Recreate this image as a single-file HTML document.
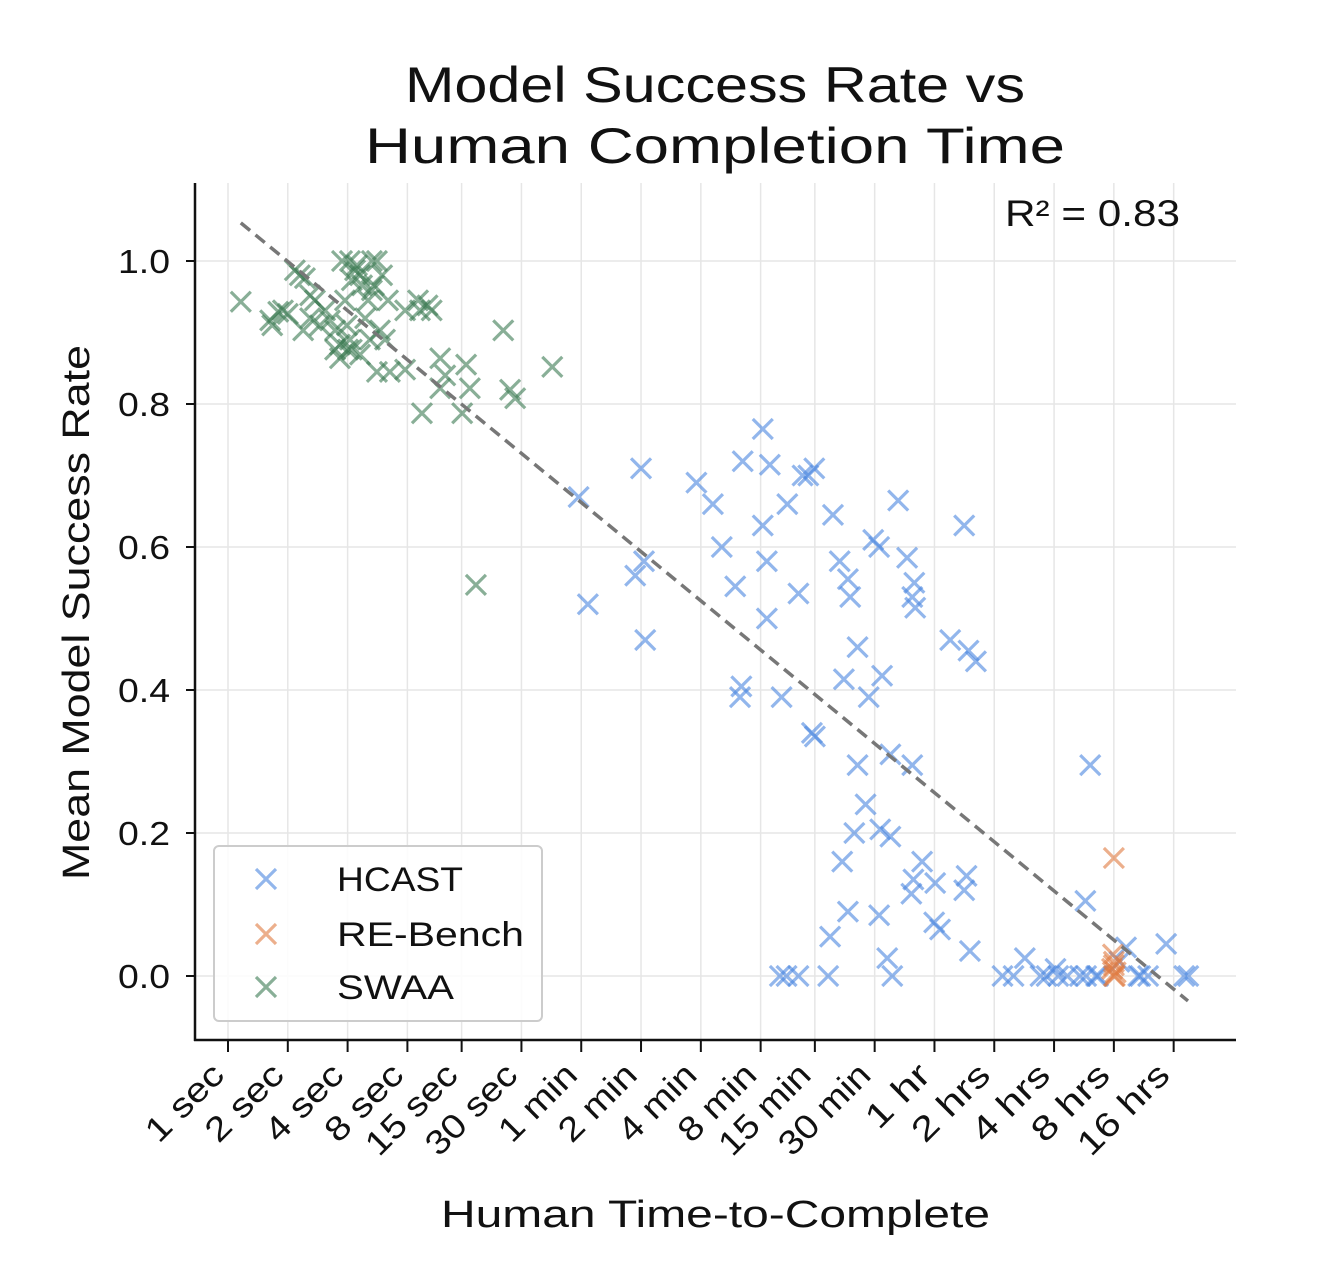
<!DOCTYPE html>
<html><head><meta charset="utf-8"><style>
html,body{margin:0;padding:0;background:#fff;}
svg{display:block;font-family:"Liberation Sans","DejaVu Sans",sans-serif;}
</style></head><body>
<svg id="chart" width="1324" height="1262" viewBox="0 0 1324 1262" xmlns="http://www.w3.org/2000/svg">
<rect width="1324" height="1262" fill="#fff"/>
<text x="405" y="102" font-size="50" textLength="620" lengthAdjust="spacingAndGlyphs" fill="#111">Model Success Rate vs</text>
<text x="365" y="163" font-size="50" textLength="700" lengthAdjust="spacingAndGlyphs" fill="#111">Human Completion Time</text>
<g id="grid"></g>
<g id="ticks"></g>
<g id="marks"></g>
<g id="fit"></g>
<line x1="195" y1="183" x2="195" y2="1041" stroke="#111" stroke-width="2.5"/>
<line x1="194" y1="1040" x2="1236" y2="1040" stroke="#111" stroke-width="2.5"/>
<text x="1005" y="226" font-size="37" textLength="175" lengthAdjust="spacingAndGlyphs" fill="#111">R² = 0.83</text>
<text transform="translate(89,880) rotate(-90)" font-size="38" textLength="535" lengthAdjust="spacingAndGlyphs" fill="#111">Mean Model Success Rate</text>
<text x="441" y="1227" font-size="38" textLength="549" lengthAdjust="spacingAndGlyphs" fill="#111">Human Time-to-Complete</text>
<g>
<rect x="214" y="846" width="328" height="175" rx="5" fill="#fff" fill-opacity="0.85" stroke="#ccc" stroke-width="2"/>
<g id="legend-items"></g>
</g>
</svg>
<script>
const yTicks=[0,0.2,0.4,0.6,0.8,1.0];
const yTickLabels=["0.0","0.2","0.4","0.6","0.8","1.0"];
const xTickSeconds=[1,2,4,8,15,30,60,120,240,480,900,1800,3600,7200,14400,28800,57600];
const xTickLabels=["1 sec","2 sec","4 sec","8 sec","15 sec","30 sec","1 min","2 min","4 min","8 min","15 min","30 min","1 hr","2 hrs","4 hrs","8 hrs","16 hrs"];
// HCAST: time in minutes, success rate
const hcastMinutes=[0.97,1.08,2.0,1.87,2.07,2.1,3.8,4.6,5.1,5.96,6.5,6.4,6.3,8.2,8.9,8.2,8.6,8.6,10.2,10.9,12.4,13,14.9,13.9,14.5,15,18.5,20,22,22.6,24.6,21,28,24.6,27,23.7,20.6,22,17.9,17.5,10,10.8,12.4,29.5,31.6,32.7,36,32,36,31.6,34.7,36.8,39.4,43.7,47.5,46.4,48,46.4,52,47,45.9,60.5,59.8,64,72,89,97,84.7,87,84.7,90.5,132,171,150,205,220,244,252,280,324,348,391,400,652,714,1085,1137,365,345,512,553,880,637];
const hcastRate=[0.67,0.52,0.71,0.56,0.58,0.47,0.69,0.66,0.60,0.545,0.72,0.405,0.39,0.765,0.715,0.63,0.58,0.50,0.39,0.66,0.535,0.70,0.71,0.70,0.34,0.335,0.645,0.58,0.555,0.53,0.46,0.415,0.39,0.295,0.24,0.20,0.16,0.09,0.055,0,0,0,0,0.61,0.60,0.42,0.31,0.205,0.195,0.085,0.025,0,0.665,0.585,0.55,0.53,0.515,0.295,0.16,0.135,0.115,0.13,0.075,0.065,0.47,0.455,0.44,0.63,0.14,0.12,0.035,0,0.025,0,0,0,0.01,0,0,0,0,0,0,0,0,0,0,0.295,0.105,0.02,0.04,0.045,0];
// RE-Bench: minutes, success
const reMinutes=[480,470,490,480,475,485,480,480];
const reRate=[0,0.01,0.005,0.02,0.03,0,0.015,0.165];
// SWAA: seconds, success
const swaaSeconds=[1.16,1.63,1.67,1.79,1.89,2.0,2.17,2.3,2.44,2.59,2.39,2.59,2.74,2.9,3.08,3.26,3.46,3.66,3.75,3.88,3.97,4.02,4.11,4.2,4.36,4.46,4.62,4.73,4.9,5.07,5.18,5.3,5.43,5.62,5.82,5.97,6.17,5.62,4.62,3.66,6.53,7.79,7.79,9.05,9.25,10.1,10.6,11.7,12.4,9.47,11.7,15.8,16.5,15.1,24.3,26.3,27.9,42.9,17.7,4.11,5.3,6.39,3.46,4.2];
const swaaRate=[0.943,0.917,0.91,0.929,0.931,0.926,0.987,0.98,0.976,0.952,0.903,0.92,0.945,0.91,0.931,0.917,0.903,0.883,1.0,0.945,0.91,0.876,0.89,0.973,0.987,0.994,0.98,0.966,0.92,0.945,0.89,0.959,0.966,1.0,0.903,0.98,0.89,0.845,0.869,0.864,0.845,0.848,0.931,0.945,0.931,0.938,0.931,0.864,0.84,0.787,0.822,0.855,0.822,0.787,0.903,0.82,0.808,0.852,0.547,1.0,1.0,0.945,0.876,0.876];
const fitIntercept=1.068, fitSlope=-0.0687; // per log2(seconds)
const fitRange=[1.16,68000];

const NS="http://www.w3.org/2000/svg";
const X=s=>228+59.8*Math.log2(s);
const Y=v=>976-715*v;
function mk(tag,attrs,parent){const e=document.createElementNS(NS,tag);for(const k in attrs)e.setAttribute(k,attrs[k]);parent.appendChild(e);return e;}
const grid=document.getElementById('grid'),ticks=document.getElementById('ticks'),marks=document.getElementById('marks');
yTicks.forEach((v,i)=>{
  const l=mk('line',{x1:195,x2:1236,y1:Y(v),y2:Y(v),stroke:'#e6e6e6','stroke-width':1.5},grid);
  
  
  const t=mk('line',{x1:186,x2:195,y1:Y(v),y2:Y(v),stroke:'#111','stroke-width':2},ticks);
  
  
  const tx=mk('text',{x:118,y:Y(v)+12,'font-size':33,textLength:52,lengthAdjust:'spacingAndGlyphs',fill:'#111'},ticks);
  tx.textContent=yTickLabels[i];
  
  
});
xTickSeconds.forEach((s,i)=>{
  const x=X(s);
  const l=mk('line',{x1:x,x2:x,y1:183,y2:1040,stroke:'#e6e6e6','stroke-width':1.5},grid);
  
  
  const t=mk('line',{x1:x,x2:x,y1:1040,y2:1052,stroke:'#111','stroke-width':2},ticks);
  
  
  const tx=mk('text',{transform:`translate(${x-2},${1077}) rotate(-45)`,'font-size':34,'text-anchor':'end',textLength:xTickLabels[i].length*19,lengthAdjust:'spacingAndGlyphs',fill:'#111'},ticks);
  tx.textContent=xTickLabels[i];
  
  
});
function cross(cx,cy,color,parent,name){
  const g=mk('g',{stroke:color,'stroke-width':3.2,'stroke-opacity':0.6,fill:'none'},parent);
  
  
  const r=10;
  mk('path',{d:`M${cx-r},${cy-r}L${cx+r},${cy+r}M${cx-r},${cy+r}L${cx+r},${cy-r}`},g);
}
hcastMinutes.forEach((m,i)=>cross(X(m*60),Y(hcastRate[i]),'#4a86e0',marks,'hcast-point'));
reMinutes.forEach((m,i)=>cross(X(m*60),Y(reRate[i]),'#e07a40',marks,'re-bench-point'));
swaaSeconds.forEach((s,i)=>cross(X(s),Y(swaaRate[i]),'#3a7a52',marks,'swaa-point'));
const fl=Math.log2(fitRange[0]),fh=Math.log2(fitRange[1]);
const fline=mk('line',{x1:X(fitRange[0]),y1:Y(fitIntercept+fitSlope*fl),x2:X(fitRange[1]),y2:Y(fitIntercept+fitSlope*fh),stroke:'#777','stroke-width':3.5,'stroke-dasharray':'12,7'},document.getElementById('fit'));


const leg=document.getElementById('legend-items');
[['HCAST','#4a86e0',879,126],['RE-Bench','#e07a40',934,187],['SWAA','#3a7a52',987,117]].forEach(([n,c,y,w])=>{
  cross(266,y,c,leg,'legend-marker');
  const t=mk('text',{x:337,y:y+12,'font-size':34,textLength:w,lengthAdjust:'spacingAndGlyphs',fill:'#111'},leg);
  t.textContent=n;
  
  
});
</script>
</body></html>
